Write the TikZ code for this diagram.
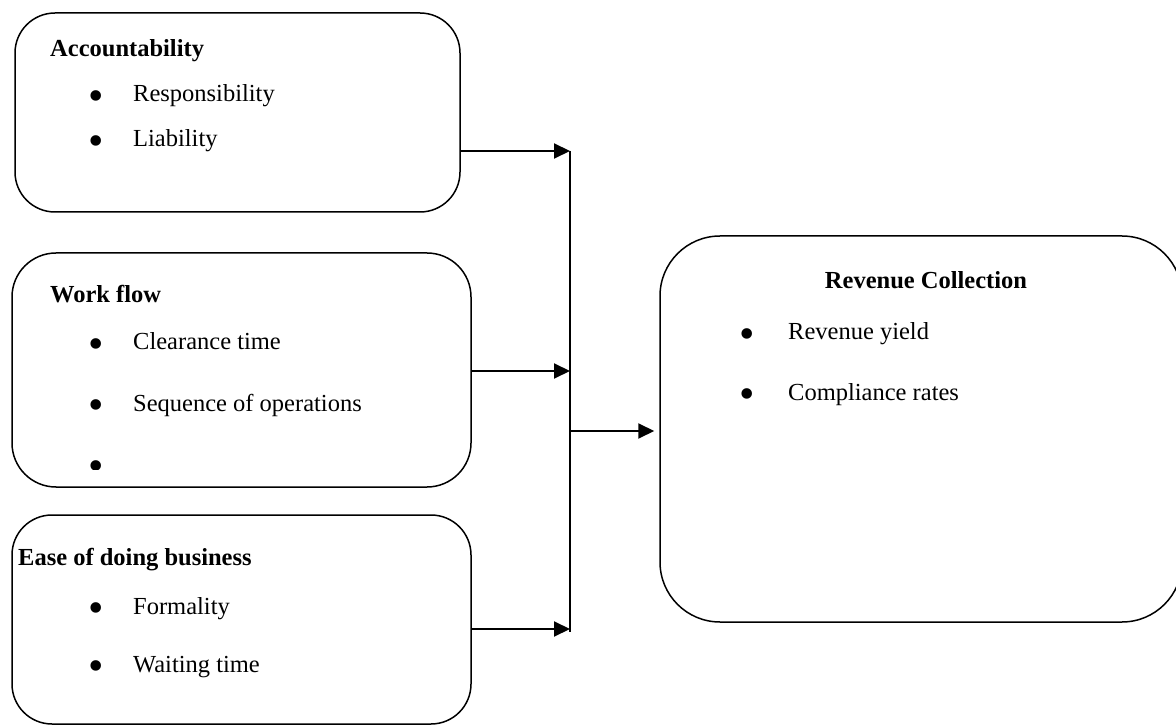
\documentclass[tikz,border=0pt]{standalone}
\usepackage{fontspec}
\setmainfont{Liberation Serif}
\usetikzlibrary{arrows.meta}
\tikzset{
  box/.style={draw=black, line width=1.5pt, rectangle, rounded corners=40pt, inner sep=0pt},
  txt/.style={anchor=base west, inner sep=0pt, font=\fontsize{24.5}{28}\selectfont},
  head/.style={txt, font=\fontsize{24.5}{28}\selectfont\bfseries},
  bul/.style={anchor=center, inner sep=0pt, yshift=-6pt, font=\fontsize{44}{48}\selectfont},
  conn/.style={line width=2pt},
  arr/.style={conn, -{Triangle[length=16pt,width=15pt]}}
}
\begin{document}
\begin{tikzpicture}[x=1pt,y=-1pt]
\clip (0,0) rectangle (1176,727);
\fill[white] (0,0) rectangle (1176,727);
% boxes
\node[box, minimum width=445pt, minimum height=199pt] (acc) at (237.5,112.5) {};
\node[box, minimum width=459pt, minimum height=234pt, rounded corners=44pt] (wf) at (241.5,370) {};
\node[box, minimum width=459pt, minimum height=209pt] (ease) at (241.5,619.5) {};
\node[box, minimum width=522pt, minimum height=386pt, rounded corners=60pt] (rev) at (921,429) {};
% texts box 1
\node[head] (t1) at (50,57) {Accountability};
\node[bul] (b11) at (96,95) {•};
\node[txt] (t11) at (133,102) {Responsibility};
\node[bul] (b12) at (96,140) {•};
\node[txt] (t12) at (133,147) {Liability};
% texts box 2
\node[head] (t2) at (50,303) {Work flow};
\node[bul] (b21) at (96,343) {•};
\node[txt] (t21) at (133,350) {Clearance time};
\node[bul] (b22) at (96,404) {•};
\node[txt] (t22) at (133,411) {Sequence of operations};
\begin{scope}
\clip (80,440) rectangle (115,469.5);
\node[bul] (b23) at (96,465) {•};
\end{scope}
% texts box 3
\node[head] (t3) at (18,565) {Ease of doing business};
\node[bul] (b31) at (96,607) {•};
\node[txt] (t31) at (133,614) {Formality};
\node[bul] (b32) at (96,665) {•};
\node[txt] (t32) at (133,672) {Waiting time};
% texts box 4
\node[head, anchor=base] (t4) at (926,289) {Revenue Collection};
\node[bul] (b41) at (747,333) {•};
\node[txt] (t41) at (788,340) {Revenue yield};
\node[bul] (b42) at (747,393) {•};
\node[txt] (t42) at (788,400) {Compliance rates};
% connectors
\coordinate (vtop) at (570,151);
\coordinate (vbot) at (570,632);
\coordinate (j2) at (570,371);
\coordinate (j3) at (570,629);
\coordinate (jr) at (570,431);
\draw[conn] (vtop) -- (vbot);
\draw[arr] (acc.east |- vtop) -- (vtop);
\draw[arr] (wf.east |- j2) -- (j2);
\draw[arr] (ease.east |- j3) -- (j3);
\draw[arr, shorten >=5pt] (jr) -- (rev.west |- jr);
\end{tikzpicture}
\end{document}
